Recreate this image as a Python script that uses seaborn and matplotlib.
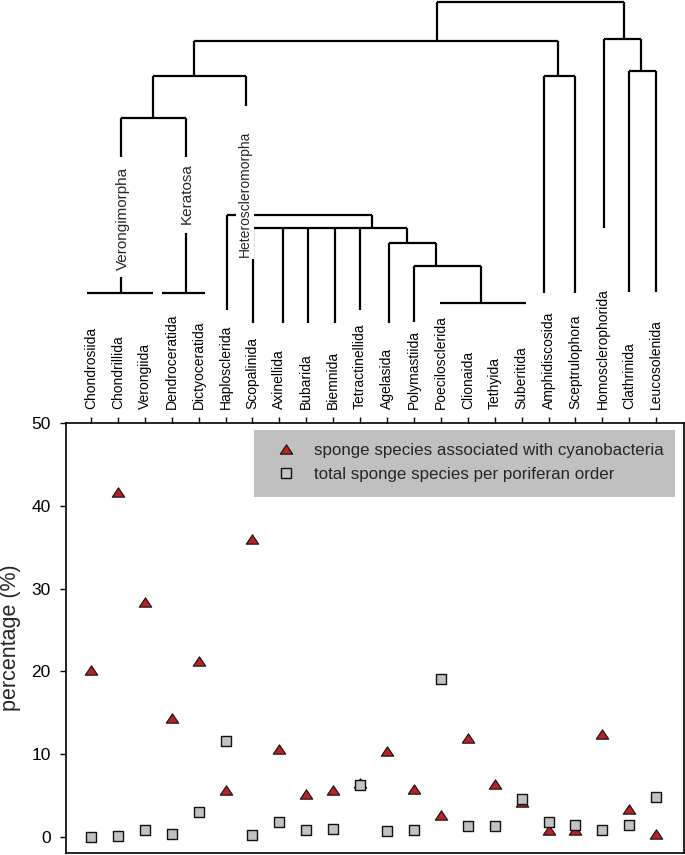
import numpy as np
import pandas as pd
import matplotlib
matplotlib.use("Agg")
import matplotlib.pyplot as plt
from matplotlib.path import Path
from matplotlib.lines import Line2D
from matplotlib.patches import Rectangle
import seaborn as sns

# ---------------- data ----------------
orders = ["Chondrosiida", "Chondrillida", "Verongiida", "Dendroceratida", "Dictyoceratida",
          "Haplosclerida", "Scopalinida", "Axinellida", "Bubarida", "Biemnida",
          "Tetractinellida", "Agelasida", "Polymastiida", "Poecilosclerida", "Clionaida",
          "Tethyida", "Suberitida", "Amphidiscosida", "Sceptrulophora", "Homosclerophorida",
          "Clathrinida", "Leucosolenida"]
cyano_pct = [20.2, 41.7, 28.4, 14.4, 21.2, 5.7, 36.0, 10.6, 5.2, 5.7, 6.5, 10.4, 5.8, 2.6,
             11.9, 6.4, 4.2, 0.8, 0.9, 12.4, 3.4, 0.4]
total_pct = [0.0, 0.1, 0.8, 0.4, 3.0, 11.6, 0.3, 1.8, 0.9, 1.0, 6.3, 0.7, 0.8, 19.1,
             1.3, 1.3, 4.6, 1.8, 1.4, 0.9, 1.4, 4.8]
series_labels = ["sponge species associated with cyanobacteria",
                 "total sponge species per poriferan order"]
yticks = [0, 10, 20, 30, 40, 50]

# dendrogram (x in category-index units, y = depth from top)
h_bar_y = [1.7, 40.7, 76, 39, 70.7, 76, 117.7, 293.3, 293.3, 215, 228.3, 243.5, 265.7, 303.3]
h_bar_x0 = [12.87, 3.84, 16.84, 19.05, 19.99, 2.30, 1.13, -0.13, 2.63, 5.05, 6.03, 11.07, 12.0, 12.97]
h_bar_x1 = [19.80, 17.36, 17.98, 20.43, 21.0, 5.76, 3.55, 2.30, 4.25, 10.43, 11.75, 12.81, 14.49, 16.16]
v_line_x = [12.87, 19.80, 3.84, 17.36, 16.84, 17.98, 19.05, 20.43, 19.99, 21.0, 5.76, 2.30,
            1.13, 1.13, 3.55, 3.55, 5.05, 10.43, 6.03, 7.12, 8.08, 9.07, 10.0, 11.75, 11.07,
            12.81, 12.0, 14.49]
v_line_y0 = [1.7, 1.7, 40.7, 40.7, 76, 76, 39, 39, 70.7, 70.7, 76, 76,
             117.7, 276.7, 117.7, 233, 215, 215, 228.3, 228.3, 228.3, 228.3, 228.3, 228.3, 243.5,
             243.5, 265.7, 265.7]
v_line_y1 = [40.7, 39, 76, 76, 293, 293, 227.7, 70.7, 292, 292, 106, 117.7,
             156.7, 293.3, 156.7, 293.3, 310, 228.3, 323, 323, 323, 323, 310, 243.5, 323,
             265.7, 321.7, 303.3]
clade_names = ["Verongimorpha", "Keratosa", "Heteroscleromorpha"]
clade_x = [1.18, 3.55, 5.72]
clade_y = [218, 194, 193.5]
clade_size = [11, 11, 10]

# ---------------- style ----------------
sns.set_style("white")
plt.rcParams["font.family"] = ["Liberation Sans", "DejaVu Sans"]

W, H = 685, 855
fig = plt.figure(figsize=(W / 100, H / 100), dpi=100)

ax_left, ax_right, ax_top, ax_bot = 66, 683.7, 423, 853
ax = fig.add_axes([ax_left / W, (H - ax_bot) / H, (ax_right - ax_left) / W, (ax_bot - ax_top) / H])

xlim = (-0.925, 22.02)

tri = Path([(-1, -0.75), (1, -0.75), (0, 0.75), (-1, -0.75)],
           [Path.MOVETO, Path.LINETO, Path.LINETO, Path.CLOSEPOLY])
tri_s, sq_s = 80, 48
red, grey = "#b5222a", "#c2c2c2"

df = pd.DataFrame({"order": orders, "cyano": cyano_pct, "total": total_pct})
sns.scatterplot(data=df, x="order", y="cyano", marker=tri, s=tri_s, color=red,
                edgecolor="#111111", linewidth=0.8, ax=ax, zorder=3, legend=False)
sns.scatterplot(data=df, x="order", y="total", marker="s", s=sq_s, color=grey,
                edgecolor="#111111", linewidth=1.0, ax=ax, zorder=4, legend=False)

ax.set_xlim(*xlim)
ax.set_ylim(-1.93, 50)
ax.set_yticks(yticks)
ax.set_yticklabels([str(v) for v in yticks], fontsize=12.5)
ax.set_xlabel("")
ax.set_ylabel("percentage (%)", fontsize=15.5)
ax.yaxis.set_label_coords((21.5 - ax_left) / (ax_right - ax_left), 0.5)

ax.xaxis.tick_top()
ax.set_xticks(range(len(orders)))
ax.set_xticklabels(orders, rotation=90, fontsize=10)
ax.tick_params(axis="x", which="both", top=True, bottom=False, direction="out",
               length=4, width=1.0, pad=6, colors="black")
ax.tick_params(axis="y", which="both", left=True, right=False, direction="out",
               length=4, width=1.0, pad=7, colors="black")
for s in ax.spines.values():
    s.set_visible(True)
    s.set_color("black")
    s.set_linewidth(1.2)

# legend with grey box
leg_box = Rectangle((254.3 / W, 1 - 496.7 / H), (675 - 254.3) / W, (496.7 - 430) / H,
                    transform=fig.transFigure, facecolor="#c0c0c0", edgecolor="none", zorder=2)
ax.add_patch(leg_box)
handles = [
    Line2D([], [], linestyle="none", marker=tri, markersize=np.sqrt(tri_s), markerfacecolor=red,
           markeredgecolor="#111111", markeredgewidth=0.8),
    Line2D([], [], linestyle="none", marker="s", markersize=np.sqrt(sq_s), markerfacecolor="#c8c8c8",
           markeredgecolor="#111111", markeredgewidth=1.0),
]
fs = 12.2
leg = fig.legend(handles, series_labels, loc="upper left",
                 bbox_to_anchor=(277.5 / W, 1 - 442.5 / H), bbox_transform=fig.transFigure,
                 frameon=False, fontsize=fs, borderpad=0, handlelength=1.0,
                 handletextpad=1.15, labelspacing=0.55, borderaxespad=0)

# ---------------- dendrogram ----------------
dtop = 415
axd = fig.add_axes([ax_left / W, 1 - dtop / H, (ax_right - ax_left) / W, dtop / H])
axd.set_xlim(*xlim)
axd.set_ylim(dtop, 0)
axd.axis("off")
axd.patch.set_visible(False)
lw = 1.6
axd.hlines(h_bar_y, h_bar_x0, h_bar_x1, colors="black", linewidth=lw, clip_on=False)
axd.vlines(v_line_x, v_line_y0, v_line_y1, colors="black", linewidth=lw, clip_on=False)
for name, x, y, fsz in zip(clade_names, clade_x, clade_y, clade_size):
    kw = {}
    if name == "Heteroscleromorpha":
        kw["bbox"] = dict(boxstyle="square,pad=0.15", facecolor="white", edgecolor="none")
    axd.text(x, y, name, rotation=90, ha="center", va="center", fontsize=fsz, zorder=5, **kw)

fig.savefig("out.png", dpi=100)
